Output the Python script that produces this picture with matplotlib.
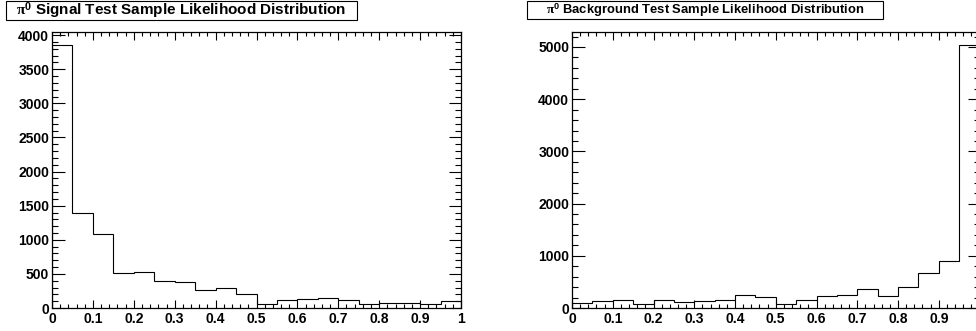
import matplotlib
matplotlib.use("Agg")
import matplotlib.pyplot as plt
import numpy as np
from matplotlib.ticker import MultipleLocator, FuncFormatter
from matplotlib.patches import Rectangle

# 20 equal bins of the likelihood output over [0, 1]
bin_edges = np.linspace(0.0, 1.0, 21)
signal_counts = [3850, 1400, 1090, 520, 525, 400, 375, 260, 290, 210,
                 65, 110, 135, 145, 112, 60, 66, 80, 57, 98]
background_counts = [100, 127, 160, 80, 147, 113, 140, 147, 240, 210,
                     71, 148, 226, 258, 372, 239, 400, 665, 897, 5030]

signal_title = r"$\mathrm{\pi}^{\mathbf{0}}$ Signal Test Sample Likelihood Distribution"
background_title = r"$\mathrm{\pi}^{\mathbf{0}}$ Background Test Sample Likelihood Distribution"

plt.rcParams["font.family"] = ["Liberation Sans", "DejaVu Sans"]
plt.rcParams["font.weight"] = "bold"
plt.rcParams["mathtext.fontset"] = "custom"
plt.rcParams["mathtext.rm"] = "Liberation Serif"
plt.rcParams["mathtext.it"] = "Liberation Serif:italic"
plt.rcParams["mathtext.bf"] = "Liberation Sans:bold"

W, H = 976, 331
fig = plt.figure(figsize=(W / 100, H / 100), dpi=100)
fig.patch.set_facecolor("white")


def px_box(x0, x1, ytop, ybot):
    return [x0 / W, (H - ybot) / H, (x1 - x0) / W, (ybot - ytop) / H]


def tick_text(v, p, xmax_visible):
    if v > xmax_visible:
        return ""
    return f"{v:g}"


def draw_panel(rect, counts, y_major, y_minor, title, title_box, title_size,
               xmax_label=1.0):
    ax = fig.add_axes(rect)
    ax.stairs(counts, bin_edges, color="black", linewidth=0.8, baseline=0)
    ax.set_xlim(0, 1)
    ax.set_ylim(0, max(counts) * 1.05)
    ax.xaxis.set_major_locator(MultipleLocator(0.1))
    ax.xaxis.set_minor_locator(MultipleLocator(0.02))
    ax.yaxis.set_major_locator(MultipleLocator(y_major))
    ax.yaxis.set_minor_locator(MultipleLocator(y_minor))
    ax.xaxis.set_major_formatter(FuncFormatter(lambda v, p: tick_text(v, p, xmax_label)))
    ax.yaxis.set_major_formatter(FuncFormatter(lambda v, p: f"{v:g}"))
    ax.tick_params(axis="both", which="both", direction="in",
                   top=True, right=True, width=0.8, colors="black")
    ax.tick_params(axis="x", which="major", length=6, pad=3, labelsize=10)
    ax.tick_params(axis="x", which="minor", length=3)
    ax.tick_params(axis="y", which="major", length=9, pad=2, labelsize=10)
    ax.tick_params(axis="y", which="minor", length=4.5)
    for lab in ax.get_xticklabels() + ax.get_yticklabels():
        lab.set_fontweight("bold")
    for sp in ax.spines.values():
        sp.set_linewidth(0.9)
        sp.set_color("black")

    x0, x1, yt, yb = title_box
    fig.patches.append(Rectangle((x0 / W, (H - yb) / H), (x1 - x0) / W, (yb - yt) / H,
                                 transform=fig.transFigure, facecolor="white",
                                 edgecolor="black", linewidth=0.8))
    fig.text((x0 + x1) / 2 / W, 1 - (yt + yb) / 2 / H, title, ha="center", va="center",
             fontsize=title_size, fontweight="bold", color="black")
    return ax


draw_panel(px_box(52, 461, 32.3, 308), signal_counts, 500, 100,
           signal_title, (6, 357, 1, 20), 11.0)
draw_panel(px_box(572, 979.5, 32.3, 308), background_counts, 1000, 200,
           background_title, (527, 883, 1, 19), 9.4, xmax_label=0.95)

fig.savefig("out.png", dpi=100, facecolor="white")
